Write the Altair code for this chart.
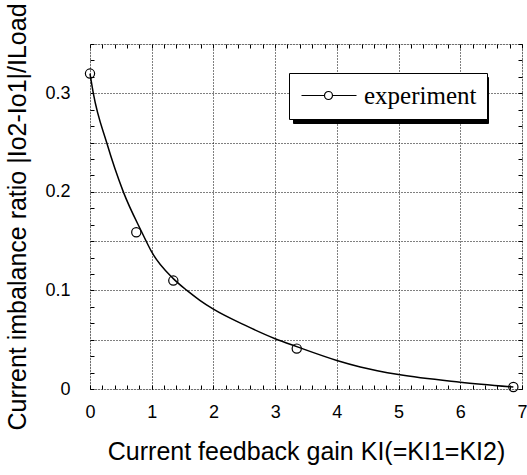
import altair as alt
import pandas as pd

# Measured imbalance ratio vs. current feedback gain
gain_points = [0.0, 0.75, 1.35, 3.35, 6.86]
ratio_points = [0.32, 0.159, 0.110, 0.041, 0.002]
series_name = ["experiment"] * len(gain_points)

# Smooth fitted curve through the measurements
gain_curve = [0.0, 0.054, 0.27, 0.54, 0.84, 0.91, 1.0, 1.35, 1.57, 1.78,
              2.0, 2.5, 3.0, 3.35, 4.0, 4.38, 5.0, 6.0, 6.86]
ratio_curve = [0.32, 0.30, 0.25, 0.20, 0.159, 0.15, 0.139, 0.112, 0.100, 0.090,
               0.081, 0.065, 0.051, 0.043, 0.029, 0.0224, 0.0146, 0.0069, 0.002]

# Tick positions (minor ticks on every side of the frame)
x_ticks = [0.0, 0.2, 0.4, 0.6, 0.8, 1.0, 1.2, 1.4, 1.6, 1.8, 2.0, 2.2, 2.4, 2.6, 2.8,
           3.0, 3.2, 3.4, 3.6, 3.8, 4.0, 4.2, 4.4, 4.6, 4.8, 5.0, 5.2, 5.4, 5.6, 5.8,
           6.0, 6.2, 6.4, 6.6, 6.8, 7.0]
y_ticks = [0.0, 0.01667, 0.03333, 0.05, 0.06667, 0.08333, 0.1, 0.11667, 0.13333, 0.15,
           0.16667, 0.18333, 0.2, 0.21667, 0.23333, 0.25, 0.26667, 0.28333, 0.3,
           0.31667, 0.33333, 0.35]

points_df = pd.DataFrame({"gain": gain_points, "ratio": ratio_points, "series": series_name})
curve_df = pd.DataFrame({"gain": gain_curve, "ratio": ratio_curve,
                         "shade": ["experiment"] * len(gain_curve)})

FONT = "Liberation Sans"
TICK = 4

x_scale = alt.Scale(domain=[0, 7], nice=False, zero=False)
y_scale = alt.Scale(domain=[0, 0.35], nice=False, zero=False)

x_is_int = "abs(datum.value - round(datum.value)) < 0.001"
y_is_grid = "abs(datum.value * 20 - round(datum.value * 20)) < 0.001"

bottom_axis = alt.Axis(
    orient="bottom", values=x_ticks, domain=False, grid=False,
    tickSize=TICK, offset=-TICK, tickColor="black", tickWidth=1,
    labelExpr=f"{x_is_int} ? format(round(datum.value), 'd') : ''",
    labelFont=FONT, labelFontSize=18, labelColor="black", labelPadding=14,
    labelFlush=False,
    title="Current feedback gain KI(=KI1=KI2)", titleFont=FONT, titleFontSize=25,
    titleFontWeight="normal", titleColor="black", titlePadding=18,
)
left_axis = alt.Axis(
    orient="left", values=y_ticks, domain=False, grid=False,
    tickSize=TICK, offset=-TICK, tickColor="black", tickWidth=1,
    labelExpr=("abs(datum.value * 10 - round(datum.value * 10)) < 0.001 ? "
               "(datum.value < 0.001 ? '0' : format(datum.value, '.1f')) : ''"),
    labelFont=FONT, labelFontSize=18, labelColor="black", labelPadding=20,
    labelFlush=False,
    title="Current imbalance ratio |Io2-Io1|/ILoad", titleFont=FONT, titleFontSize=25,
    titleFontWeight="normal", titleColor="black", titlePadding=14,
)
top_axis = alt.Axis(
    orient="top", values=x_ticks, domain=False, labels=False, title="",
    tickSize=TICK, offset=-TICK, tickColor="black", tickWidth=1,
    grid=True, gridColor="black", gridDash=[1, 2], gridWidth=1,
    gridOpacity={"condition": {"test": x_is_int, "value": 1}, "value": 0},
)
right_axis = alt.Axis(
    orient="right", values=y_ticks, domain=False, labels=False, title="",
    tickSize=TICK, offset=-TICK, tickColor="black", tickWidth=1,
    grid=True, gridColor="black", gridDash=[1, 2], gridWidth=1,
    gridOpacity={"condition": {"test": y_is_grid, "value": 1}, "value": 0},
)

# Legend symbol: a short line with an open circle in the middle
legend_symbol = ("M -1 0 H 1.3 M 2.1 0 H 4.5 "
                 "M 1.3 0 A 0.4 0.4 0 1 1 2.1 0 A 0.4 0.4 0 1 1 1.3 0")

LEG_X, LEG_Y, SHADOW = 199, 29, 4
legend_common = dict(
    title="", orient="none", symbolType=legend_symbol, symbolSize=400,
    symbolStrokeWidth=1.2, symbolStrokeColor="black", symbolFillColor="transparent",
    labelFont="Liberation Serif", labelFontSize=25, labelColor="black",
    padding=10, strokeColor="black",
)

# The shadow box keeps the legend's height with a blank label; its width
# comes from a larger label offset
blank_label = "'" + "\u00a0" * 18 + "'"

curve = alt.Chart(curve_df).mark_line(
    strokeWidth=1.5, interpolate="monotone"
).encode(
    x=alt.X("gain:Q", scale=x_scale, axis=bottom_axis),
    y=alt.Y("ratio:Q", scale=y_scale, axis=left_axis),
    # drop shadow behind the legend box
    color=alt.Color(
        "shade:N", scale=alt.Scale(range=["black"]),
        legend=alt.Legend(legendX=LEG_X + SHADOW, legendY=LEG_Y + SHADOW,
                          fillColor="black", zindex=1, labelExpr=blank_label,
                          labelOffset=150, **legend_common),
    ),
)

points = alt.Chart(points_df).mark_point(
    shape="circle", filled=False, size=85, strokeWidth=1.2, opacity=1
).encode(
    x=alt.X("gain:Q", scale=x_scale, axis=top_axis),
    y=alt.Y("ratio:Q", scale=y_scale, axis=right_axis),
    color=alt.Color(
        "series:N", scale=alt.Scale(range=["black"]),
        legend=alt.Legend(legendX=LEG_X, legendY=LEG_Y, fillColor="white",
                          zindex=2, labelOffset=40, **legend_common),
    ),
)

chart = alt.layer(curve, points).resolve_axis(
    x="independent", y="independent"
).resolve_scale(
    color="independent"
).resolve_legend(
    color="independent"
).properties(
    width=432, height=345,
    autosize=alt.AutoSizeParams(type="none"),
    padding={"left": 90, "top": 44, "right": 5, "bottom": 86},
).configure_view(
    stroke="black", strokeWidth=1.5
).configure(background="white")

chart.save("out.html", embed_options={"renderer": "svg", "actions": False})
